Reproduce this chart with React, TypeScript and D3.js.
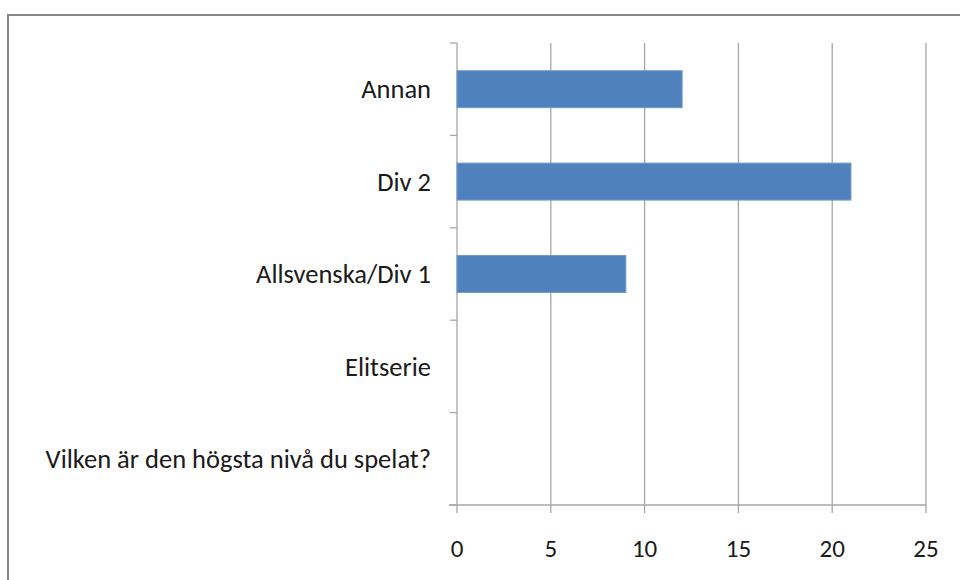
import React from "react";
import * as d3 from "d3";

const categories = ["Annan", "Div 2", "Allsvenska/Div 1", "Elitserie", "Vilken är den högsta nivå du spelat?"];
const values = [12, 21, 9, 0, 0];
const xTicks = [0, 5, 10, 15, 20, 25];

export default function App() {
  const W = 960, H = 580;
  const left = 457, right = 926, top = 43, bottom = 505;
  const x = d3.scaleLinear().domain([0, 25]).range([left, right]);
  const y = d3.scaleBand<string>().domain(categories).range([top, bottom]).paddingInner(0.6).paddingOuter(0.3);
  const band = d3.scaleBand<string>().domain(categories).range([top, bottom]);
  const font = "Carlito, Calibri, Lato, 'Open Sans', sans-serif";
  const bounds = d3.range(categories.length + 1).map(i => top + i * band.step());
  return (
    <svg width={W} height={H} style={{ position: "absolute", left: 0, top: 0 }} fontFamily={font}>
      <rect x={0} y={0} width={W} height={H} fill="#fff" />
      <rect x={8} y={15} width={W} height={H} fill="none" stroke="#888" strokeWidth={2} />
      {xTicks.map(t => (
        <line key={"g" + t} x1={x(t)} x2={x(t)} y1={top} y2={bottom + 8} stroke="#a6a6a6" strokeWidth={1.3} />
      ))}
      <line x1={left - 8} x2={right} y1={bottom} y2={bottom} stroke="#a6a6a6" strokeWidth={1.3} />
      {bounds.map((b, i) => (
        <line key={"t" + i} x1={left - 7} x2={left} y1={b} y2={b} stroke="#a6a6a6" strokeWidth={1.3} />
      ))}
      {categories.map((c, i) => (
        <rect key={c} x={x(0)} y={y(c)!} width={x(values[i]) - x(0)} height={y.bandwidth()} fill="#4f81bd" stroke="#7199cc" strokeWidth={1} />
      ))}
      {categories.map(c => (
        <text key={"l" + c} x={431} y={band(c)! + band.bandwidth() / 2} dy="0.35em" textAnchor="end" fontSize={26.5} fill="#1a1a1a">{c}</text>
      ))}
      {xTicks.map(t => (
        <text key={"x" + t} x={x(t)} y={548} dy="0.35em" textAnchor="middle" fontSize={25} fill="#1a1a1a">{t}</text>
      ))}
    </svg>
  );
}
